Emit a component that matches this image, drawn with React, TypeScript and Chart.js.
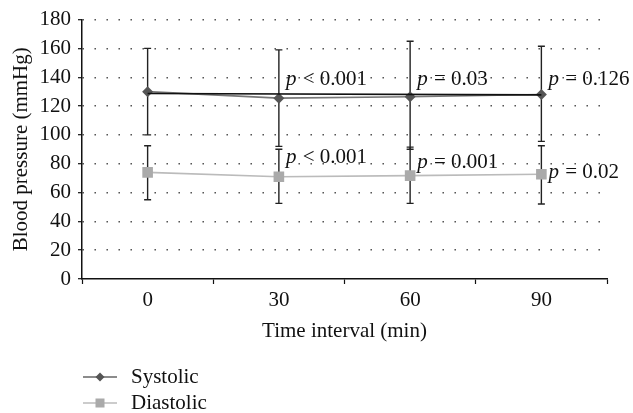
import React, { useEffect, useRef } from "react";
import { Chart, registerables } from "chart.js";

Chart.register(...registerables);

const categories = ["0", "30", "60", "90"];
const systolic = [130, 125.5, 126.5, 128];
const systolicUpper = [160, 159, 165, 161.5];
const systolicLower = [100, 92, 90, 95.5];
const diastolic = [74, 71, 71.7, 72.7];
const diastolicUpper = [92.5, 90, 91.5, 92.5];
const diastolicLower = [55, 52.5, 52.5, 52];
const trendLine = [128.7, null, null, 127.8];
const systolicP = ["", "< 0.001", "= 0.03", "= 0.126"];
const systolicPAt = [0, 134.5, 134.5, 134.5];
const diastolicP = ["", "< 0.001", "= 0.001", "= 0.02"];
const diastolicPAt = [0, 80.5, 77, 70];
const yTicks = { min: 0, max: 180, step: 20 };

const FONT = "'Liberation Serif', 'Times New Roman', serif";
const FS = 21;

export default function App() {
  const ref = useRef<HTMLCanvasElement | null>(null);

  useEffect(() => {
    if (!ref.current) return;

    const extras = {
      id: "extras",
      beforeDatasetsDraw(chart: any) {
        const { ctx, scales } = chart;
        const x = scales.x, y = scales.y;
        ctx.save();
        ctx.strokeStyle = "#222";
        ctx.lineWidth = 1.4;
        const bars = (up: number[], lo: number[]) => {
          for (let i = 0; i < categories.length; i++) {
            const px = x.getPixelForValue(i);
            const py1 = y.getPixelForValue(up[i]);
            const py2 = y.getPixelForValue(lo[i]);
            ctx.beginPath();
            ctx.moveTo(px, py1);
            ctx.lineTo(px, py2);
            ctx.moveTo(px - 3.5, py1);
            ctx.lineTo(px + 3.5, py1);
            ctx.moveTo(px - 3.5, py2);
            ctx.lineTo(px + 3.5, py2);
            ctx.stroke();
          }
        };
        bars(systolicUpper, systolicLower);
        bars(diastolicUpper, diastolicLower);
        ctx.restore();
      },
      afterDatasetsDraw(chart: any) {
        const { ctx, scales, chartArea } = chart;
        const x = scales.x, y = scales.y;
        ctx.save();
        ctx.fillStyle = "#111";
        ctx.textBaseline = "alphabetic";
        const label = (txt: string, px: number, py: number) => {
          ctx.font = `italic ${FS}px ${FONT}`;
          ctx.fillText("p", px, py);
          const w = ctx.measureText("p ").width;
          ctx.font = `${FS}px ${FONT}`;
          ctx.fillText(" " + txt, px + w - ctx.measureText(" ").width + 1, py);
        };
        for (let i = 0; i < categories.length; i++) {
          if (systolicP[i]) label(systolicP[i], x.getPixelForValue(i) + 7, y.getPixelForValue(systolicPAt[i]));
          if (diastolicP[i]) label(diastolicP[i], x.getPixelForValue(i) + 7, y.getPixelForValue(diastolicPAt[i]));
        }
        // legend
        const items = [
          { text: "Systolic", color: "#666", fill: "#555", shape: "diamond" },
          { text: "Diastolic", color: "#bbb", fill: "#aaa", shape: "square" },
        ];
        const lx = chartArea.left + 1;
        items.forEach((it, k) => {
          const ly = chartArea.bottom + 98 + k * 26;
          ctx.strokeStyle = it.color;
          ctx.lineWidth = 1.5;
          ctx.beginPath();
          ctx.moveTo(lx, ly);
          ctx.lineTo(lx + 34, ly);
          ctx.stroke();
          ctx.fillStyle = it.fill;
          const cx = lx + 17;
          if (it.shape === "diamond") {
            ctx.beginPath();
            ctx.moveTo(cx, ly - 4.5);
            ctx.lineTo(cx + 4.5, ly);
            ctx.lineTo(cx, ly + 4.5);
            ctx.lineTo(cx - 4.5, ly);
            ctx.closePath();
            ctx.fill();
          } else {
            ctx.fillRect(cx - 4.5, ly - 4.5, 9, 9);
          }
          ctx.fillStyle = "#111";
          ctx.font = `${FS}px ${FONT}`;
          ctx.textBaseline = "middle";
          ctx.fillText(it.text, lx + 48, ly);
        });
        ctx.restore();
      },
    };

    const chart = new Chart(ref.current, {
      type: "line",
      data: {
        labels: categories,
        datasets: [
          {
            label: "trend",
            data: trendLine as any,
            borderColor: "#111",
            borderWidth: 1.6,
            pointRadius: 0,
            spanGaps: true,
          },
          {
            label: "Systolic",
            data: systolic,
            borderColor: "#777",
            borderWidth: 1.6,
            pointStyle: "rectRot",
            pointRadius: 5.5,
            pointBackgroundColor: "#555",
            pointBorderColor: "#555",
            pointBorderWidth: 0,
          },
          {
            label: "Diastolic",
            data: diastolic,
            borderColor: "#bbb",
            borderWidth: 1.6,
            pointStyle: "rect",
            pointRadius: 7.5,
            pointBackgroundColor: "#aaa",
            pointBorderColor: "#aaa",
            pointBorderWidth: 0,
          },
        ],
      },
      options: {
        animation: false,
        responsive: false,
        devicePixelRatio: 1,
        layout: { padding: { left: 0, right: 26, top: 19, bottom: 69 } },
        plugins: { legend: { display: false }, tooltip: { enabled: false } },
        scales: {
          x: {
            type: "category",
            offset: true,
            afterFit: (s: any) => {
              s.height = 65;
            },
            grid: {
              offset: true,
              drawOnChartArea: false,
              drawTicks: true,
              tickLength: 5,
              tickColor: "#111",
              tickWidth: 1.2,
            },
            border: { color: "#111", width: 1.5 },
            ticks: { color: "#111", font: { family: FONT, size: FS }, padding: 4 },
            title: {
              display: true,
              text: "Time interval (min)",
              color: "#111",
              font: { family: FONT, size: FS },
              padding: { top: 10, bottom: 0 },
            },
          },
          y: {
            min: yTicks.min,
            max: yTicks.max,
            afterFit: (s: any) => {
              s.width = 82;
            },
            grid: {
              color: (c: any) => (c.tick && c.tick.value === 0 ? "rgba(0,0,0,0)" : "#444"),
              lineWidth: 1.4,
              tickColor: "#111",
              tickLength: 4,
              tickWidth: 1.2,
            },
            border: { color: "#111", width: 1.5, dash: [1.4, 10.6] },
            ticks: {
              stepSize: yTicks.step,
              color: "#111",
              padding: 7,
              font: { family: FONT, size: FS },
            },
            title: {
              display: true,
              text: "Blood pressure (mmHg)",
              color: "#111",
              font: { family: FONT, size: FS },
              padding: { top: 9, bottom: 0 },
            },
          },
        },
      },
      plugins: [extras],
    });
    return () => chart.destroy();
  }, []);

  return (
    <div style={{ position: "absolute", left: 0, top: 0, width: 633, height: 413, background: "#fff" }}>
      <canvas ref={ref} width={633} height={413} style={{ width: 633, height: 413 }} />
    </div>
  );
}
